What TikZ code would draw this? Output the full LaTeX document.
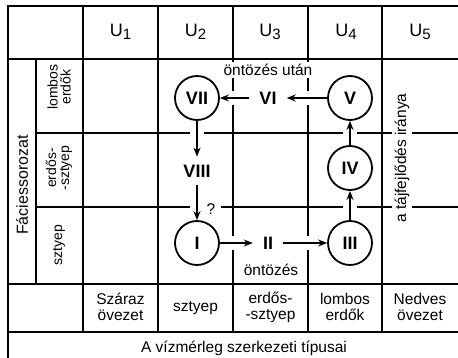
\documentclass[tikz,border=0pt]{standalone}
\usepackage{fontspec}
\setmainfont{Liberation Sans}
\usetikzlibrary{arrows.meta}
\newcommand{\Uh}[1]{U\raisebox{-3.5pt}{\fontsize{15}{15}\selectfont #1}}
\begin{document}
\begin{tikzpicture}[x=1pt,y=-1pt,
  gridline/.style={line width=1.8pt, line cap=rect},
  lbl/.style={font=\fontsize{15.5}{16}\selectfont, align=center, inner sep=1pt},
  wlbl/.style={lbl, fill=white},
  sublbl/.style={font=\fontsize{14}{13}\selectfont, align=center, inner sep=1pt, rotate=90},
  hdr/.style={font=\fontsize{18}{18}\selectfont, inner sep=0pt},
  num/.style={font=\fontsize{18}{18}\selectfont\bfseries, inner xsep=10pt, inner ysep=8pt},
  stage/.style={circle, draw, line width=1.8pt, fill=white, minimum size=44pt, inner sep=0pt, font=\fontsize{18}{18}\selectfont\bfseries},
  arr/.style={line width=1.5pt, -{Stealth[length=9pt,width=7pt]},
    preaction={draw=white, line width=14pt, arrows=-, shorten >=2pt, shorten <=2pt}},
]
\useasboundingbox (0,0) rectangle (458,358);
% grid
\draw[gridline] (8,358) -- (8,6) -- (458,6);
\draw[gridline] (8,59) -- (458,59);
\draw[gridline] (36,133) -- (458,133);
\draw[gridline] (36,207) -- (458,207);
\draw[gridline] (8,284) -- (458,284);
\draw[gridline] (8,332) -- (458,332);
\draw[gridline] (36,59) -- (36,284);
\foreach \x in {83,158,233,308,382} \draw[gridline] (\x,6) -- (\x,332);
% headers
\node[hdr] (h1) at (120.5,32) {\Uh{1}};
\node[hdr] (h2) at (195.5,32) {\Uh{2}};
\node[hdr] (h3) at (270,32) {\Uh{3}};
\node[hdr] (h4) at (346,32) {\Uh{4}};
\node[hdr] (h5) at (420,32) {\Uh{5}};
% row labels
\node[lbl, rotate=90, font=\fontsize{16}{16}\selectfont] (facies) at (22,185) {Fáciessorozat};
\node[sublbl] (r1) at (59,87) {lombos\\erdők};
\node[sublbl] (r2) at (59,168) {erdős-\\-sztyep};
\node[sublbl] (r3) at (59,245) {sztyep};
% zone row
\node[lbl] (z1) at (120.5,307) {Száraz\\övezet};
\node[lbl] (z2) at (195.5,308) {sztyep};
\node[lbl] (z3) at (270.5,307) {erdős-\\-sztyep};
\node[lbl] (z4) at (345,307) {lombos\\erdők};
\node[lbl] (z5) at (420,307) {Nedves\\övezet};
\node[lbl] (cap) at (244,348) {A vízmérleg szerkezeti típusai};
% side labels
\node[wlbl, inner sep=2pt] (utan) at (268,70) {öntözés után};
\node[lbl] (ontozes) at (271,270) {öntözés};
\node[wlbl, rotate=90, inner sep=3pt] (irany) at (402,158) {a tájfejlődés iránya};
% stages
\node[stage] (VII) at (197,98) {VII};
\node[stage] (I) at (197,243) {I};
\node[stage] (V) at (350,98) {V};
\node[stage] (IV) at (350,168) {IV};
\node[stage] (III) at (350,243) {III};
\node[num] (VI) at (268,98) {VI};
\node[num] (VIII) at (197,171) {VIII};
\node[num] (II) at (268,243) {II};
% connectors
\draw[arr] (III) -- (IV);
\draw[arr] (IV) -- (V);
\draw[arr] (V) -- (VI);
\draw[arr] (VI) -- (VII);
\draw[arr] (VII) -- (VIII);
\draw[arr] (VIII) -- (I);
\draw[arr] (I) -- (II);
\draw[arr] (II) -- (III);
\node[wlbl, inner xsep=6pt, inner ysep=2pt] (q) at (211,209) {?};
\end{tikzpicture}
\end{document}
